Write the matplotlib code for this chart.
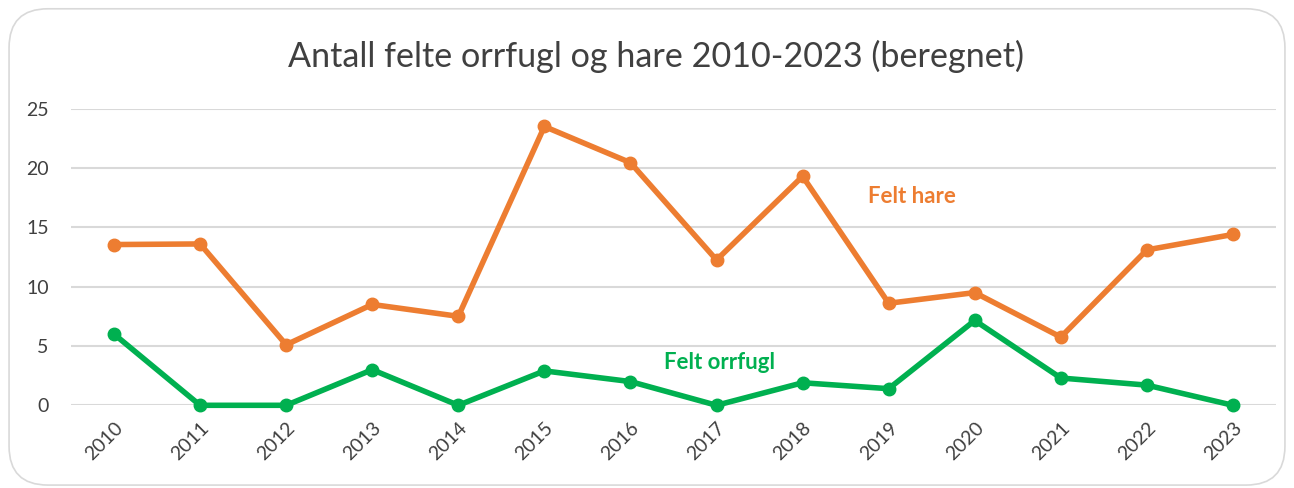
import matplotlib.pyplot as plt
from matplotlib.patches import FancyBboxPatch

plt.rcParams["font.family"] = ["Lato", "DejaVu Sans"]

years = ["2010", "2011", "2012", "2013", "2014", "2015", "2016",
         "2017", "2018", "2019", "2020", "2021", "2022", "2023"]
hare = [13.55, 13.6, 5.1, 8.5, 7.5, 23.5, 20.45, 12.25, 19.3, 8.6, 9.5, 5.75, 13.1, 14.4]
orrfugl = [6.0, 0, 0, 3.0, 0, 2.9, 2.0, 0, 1.9, 1.4, 7.15, 2.3, 1.7, 0]

orange = "#ED7D31"
green = "#00B050"

fig = plt.figure(figsize=(12.94, 4.88), dpi=100)
# rounded chart frame
frame = FancyBboxPatch((0.007, 0.006), 0.986, 0.976, boxstyle="round,pad=0,rounding_size=0.03",
                       transform=fig.transFigure, facecolor="white", edgecolor="#D9D9D9",
                       linewidth=1.2, mutation_aspect=1294 / 488, zorder=-5)
fig.patches.append(frame)

ax = fig.add_axes([71 / 1294, 1 - 405.3 / 488, (1276 - 71) / 1294, (405.3 - 108.7) / 488])
ax.set_facecolor("none")
x = list(range(len(years)))
ax.plot(x, hare, color=orange, lw=4, marker="o", ms=9, solid_joinstyle="round", clip_on=False)
ax.plot(x, orrfugl, color=green, lw=4, marker="o", ms=9, solid_joinstyle="round", clip_on=False)

ax.set_xlim(-0.5, len(years) - 0.5)
ax.set_ylim(0, 25)
ax.set_yticks(range(0, 26, 5))
ax.set_xticks(x)
ax.set_xticklabels(years, rotation=45, ha="right", rotation_mode="anchor")
ax.tick_params(axis="both", length=0, labelsize=14, colors="#404040")
ax.tick_params(axis="y", pad=16)
ax.tick_params(axis="x", pad=10)
ax.grid(axis="y", color="#D9D9D9", lw=1.5)
ax.set_axisbelow(True)
for s in ax.spines.values():
    s.set_visible(False)

ax.text(9.27, 17.6, "Felt hare", color=orange, fontsize=16, fontweight="bold", ha="center", va="center")
ax.text(7.03, 3.6, "Felt orrfugl", color=green, fontsize=16, fontweight="bold", ha="center", va="center")

fig.text(656 / 1294, 1 - 56 / 488, "Antall felte orrfugl og hare 2010-2023 (beregnet)",
         ha="center", va="center", fontsize=24.6, color="#404040")

fig.savefig("out.png", dpi=100)
